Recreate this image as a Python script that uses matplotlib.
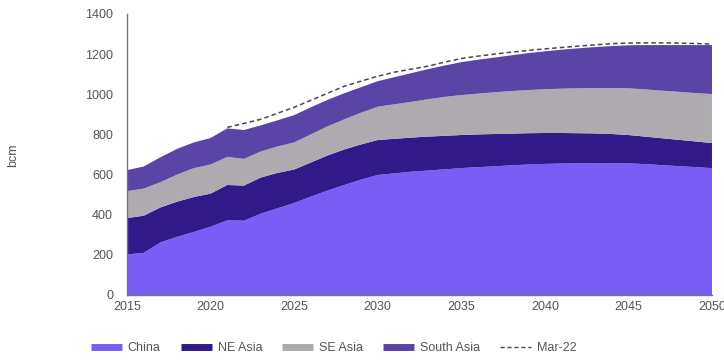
import matplotlib
matplotlib.use("Agg")
import matplotlib.pyplot as plt
from matplotlib.lines import Line2D

plt.rcParams['font.family'] = ['Liberation Sans', 'DejaVu Sans']

years = list(range(2015, 2051))

china = [202, 210, 262, 290, 314, 340, 372, 370, 405, 432, 458, 490, 520, 548, 575, 598,
         606, 614, 620, 626, 632, 637, 641, 646, 650, 653, 655, 656, 657, 657, 656, 652,
         647, 642, 637, 632]
ne_asia = [181, 185, 174, 175, 174, 165, 176, 175, 180, 176, 167, 170, 175, 177, 175, 174,
           172, 170, 169, 167, 165, 163, 161, 158, 156, 154, 152, 150, 148, 145, 141, 137,
           134, 131, 128, 125]
se_asia = [134, 135, 126, 135, 144, 145, 140, 133, 130, 132, 135, 140, 145, 150, 158, 166,
           172, 178, 186, 194, 199, 203, 208, 212, 215, 218, 221, 224, 226, 229, 233, 235,
           237, 239, 241, 244]
south_asia = [105, 110, 124, 128, 128, 132, 142, 144, 130, 130, 136, 135, 132, 130, 127, 127,
              135, 143, 150, 156, 164, 169, 173, 178, 184, 189, 194, 199, 204, 209, 214, 221,
              227, 233, 239, 244]

mar22_years = list(range(2021, 2051))
mar22_total = [835, 855, 875, 905, 935, 970, 1005, 1040, 1065, 1090, 1110, 1125, 1140, 1160,
               1178, 1190, 1200, 1210, 1218, 1226, 1233, 1240, 1246, 1252, 1255, 1256, 1256,
               1255, 1253, 1250]

series_names = ["China", "NE Asia", "SE Asia", "South Asia"]
colors = ["#7a5df5", "#31198a", "#adabb0", "#5a44a6"]
line_color = "#4b4458"
text_color = "#555555"

fig = plt.figure(figsize=(7.24, 3.6), dpi=100)
ax = fig.add_axes([0.1754, 0.1806, 0.808, 0.7806])

ax.stackplot(years, china, ne_asia, se_asia, south_asia, colors=colors, linewidth=0)
ax.plot(mar22_years, mar22_total, color=line_color, lw=1.1, ls=(0, (3, 2)))

ax.set_xlim(2015, 2050)
ax.set_ylim(0, 1400)
ax.set_xticks(range(2015, 2051, 5))
ax.set_yticks(range(0, 1401, 200))
ax.tick_params(axis='both', length=0, labelsize=9, colors=text_color, pad=4)
ax.tick_params(axis='y', pad=10)
for side in ("top", "right"):
    ax.spines[side].set_visible(False)
for side in ("left", "bottom"):
    ax.spines[side].set_color("#777777")
    ax.spines[side].set_linewidth(1.0)

fig.text(0.018, 0.57, "bcm", rotation=90, ha='center', va='center',
         fontsize=9, color=text_color)

handles = [Line2D([0], [0], color=c, lw=5, solid_capstyle='butt') for c in colors]
handles.append(Line2D([0], [0], color=line_color, lw=1.0, ls=(0, (3, 2))))
labels = series_names + ["Mar-22"]
fig.legend(handles, labels, loc='center', bbox_to_anchor=(0.461, 0.032), ncol=5,
           frameon=False, fontsize=9, handlelength=2.5, handletextpad=0.45,
           columnspacing=1.6, labelcolor=text_color)

fig.savefig("out.png", dpi=100)
